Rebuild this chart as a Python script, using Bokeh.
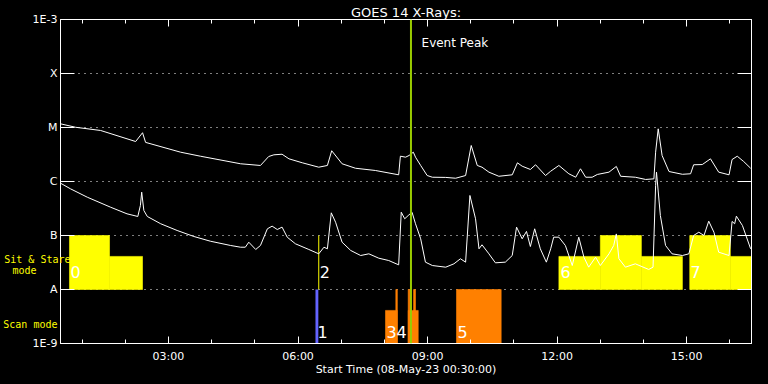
from bokeh.plotting import figure
from bokeh.models import Range1d, FixedTicker, LogAxis, LinearAxis, Span, Label, Title, GlobalInlineStyleSheet
from bokeh.embed import file_html
from bokeh.resources import INLINE

FONT = "DejaVu Sans"
MONO = "DejaVu Sans Mono"

# ---- data (time in decimal hours of 08-May-23, flux in W/m^2) ----
LONG_T = [0.50, 0.85, 1.43, 2.24, 2.40, 2.47, 3.28, 3.74, 4.67, 5.13, 5.32, 5.44, 5.63, 5.79,
          6.10, 6.48, 6.68, 6.78, 7.02, 7.33, 7.79, 8.33, 8.37, 8.49, 8.57, 8.67, 8.72, 8.84,
          8.99, 9.11, 9.42, 9.65, 9.88, 10.01, 10.15, 10.26, 10.42, 10.65, 10.96, 11.08, 11.19,
          11.38, 11.50, 11.73, 11.85, 12.04, 12.27, 12.43, 12.54, 12.66, 12.81, 12.93, 13.20,
          13.37, 13.47, 13.81, 14.05, 14.24, 14.28, 14.34, 14.43, 14.59, 14.90, 15.09, 15.16,
          15.36, 15.55, 15.74, 15.98, 16.05, 16.17, 16.32, 16.48]
LONG_F = [1.17e-5, 1.01e-5, 8.8e-6, 5.5e-6, 8.0e-6, 5.3e-6, 3.49e-6, 2.94e-6, 2.13e-6, 1.98e-6,
          2.90e-6, 3.12e-6, 3.2e-6, 2.63e-6, 2.22e-6, 1.84e-6, 1.98e-6, 3.71e-6, 2.13e-6, 1.76e-6,
          1.60e-6, 1.33e-6, 2.94e-6, 2.82e-6, 3.03e-6, 3.49e-6, 2.82e-6, 1.98e-6, 1.29e-6, 1.20e-6,
          1.19e-6, 1.15e-6, 1.29e-6, 4.64e-6, 1.98e-6, 1.84e-6, 1.49e-6, 1.25e-6, 1.33e-6, 2.22e-6,
          1.92e-6, 1.67e-6, 2.04e-6, 1.29e-6, 1.55e-6, 1.98e-6, 1.39e-6, 1.20e-6, 1.72e-6, 1.20e-6,
          1.20e-6, 1.35e-6, 1.49e-6, 1.90e-6, 1.25e-6, 1.20e-6, 1.09e-6, 1.12e-6, 3.49e-6, 9.46e-6,
          3.03e-6, 1.53e-6, 1.36e-6, 1.39e-6, 2.04e-6, 2.06e-6, 2.63e-6, 1.49e-6, 1.33e-6, 2.55e-6,
          2.94e-6, 2.34e-6, 1.76e-6]

SHORT_T = [0.50, 0.73, 1.12, 1.66, 2.04, 2.29, 2.35, 2.38, 2.43, 2.51, 2.82, 3.20, 3.59, 3.97,
           4.44, 4.67, 4.78, 4.86, 5.02, 5.13, 5.29, 5.40, 5.52, 5.63, 5.75, 5.94, 6.25, 6.48,
           6.60, 6.68, 6.77, 6.87, 7.02, 7.22, 7.45, 7.64, 7.87, 8.10, 8.33, 8.39, 8.47, 8.55,
           8.64, 8.72, 8.84, 8.95, 9.11, 9.42, 9.61, 9.76, 9.88, 9.98, 10.11, 10.19, 10.26, 10.42,
           10.57, 10.80, 10.96, 11.06, 11.19, 11.29, 11.38, 11.48, 11.61, 11.75, 11.85, 11.92,
           12.04, 12.19, 12.35, 12.50, 12.62, 12.73, 12.89, 13.00, 13.20, 13.31, 13.37, 13.43,
           13.58, 13.81, 14.12, 14.22, 14.28, 14.30, 14.39, 14.51, 14.66, 14.90, 15.05, 15.16,
           15.28, 15.40, 15.51, 15.63, 15.74, 15.98, 16.05, 16.11, 16.15, 16.29, 16.48]
SHORT_F = [9.3e-7, 7.33e-7, 5.12e-7, 3.34e-7, 2.52e-7, 2.25e-7, 3.6e-7, 6.34e-7, 2.9e-7, 2.25e-7,
           1.65e-7, 1.24e-7, 9.58e-8, 7.84e-8, 6.53e-8, 6.07e-8, 6.07e-8, 7.51e-8, 5.51e-8, 6.53e-8,
           1.33e-7, 1.49e-7, 1.29e-7, 1.43e-7, 9.31e-8, 7.02e-8, 5.51e-8, 4.58e-8, 6.07e-8, 5.67e-8,
           2.63e-7, 1.76e-7, 7.51e-8, 5.28e-8, 4.26e-8, 4.58e-8, 3.80e-8, 3.44e-8, 2.86e-8, 2.70e-7,
           2.04e-7, 2.34e-7, 2.70e-7, 1.65e-7, 8.69e-8, 3.21e-8, 2.78e-8, 2.59e-8, 2.99e-8, 3.71e-8,
           3.21e-8, 5.51e-7, 2.04e-7, 5.67e-8, 6.73e-8, 4.58e-8, 3.12e-8, 3.21e-8, 4.26e-8, 1.43e-7,
           8.69e-8, 1.19e-7, 6.25e-8, 1.33e-7, 5.67e-8, 3.21e-8, 5.67e-8, 9.31e-8, 9.31e-8, 6.53e-8,
           2.78e-8, 9.31e-8, 3.96e-8, 2.59e-8, 3.96e-8, 2.78e-8, 4.58e-8, 6.53e-8, 1.07e-7, 3.71e-8,
           2.59e-8, 2.99e-8, 2.35e-8, 2.59e-8, 8.43e-7, 1.49e-6, 2.34e-7, 6.53e-8, 4.58e-8, 4.26e-8,
           4.58e-8, 1.0e-7, 1.15e-7, 1.0e-7, 1.84e-7, 1.15e-7, 4.91e-8, 4.26e-8, 1.82e-7, 1.65e-7,
           2.28e-7, 1.53e-7, 5.67e-8]

# Sit & Stare observation blocks (start, end, level)
SS_START = [0.708, 1.635, 12.04, 13.00, 13.95, 15.07, 16.01]
SS_END = [1.635, 2.399, 13.00, 13.95, 14.90, 16.01, 16.89]
SS_TOP = [1.0e-7, 4.1e-8, 4.1e-8, 1.0e-7, 4.1e-8, 1.0e-7, 4.1e-8]
SS_LINE_T = [6.48]
SS_NUM = ["0", "2", "6", "7"]
SS_NUM_T = [0.73, 6.50, 12.08, 15.09]

# Scan mode observation blocks
SCAN_START = [8.025, 8.264, 8.551, 8.551, 8.675, 9.669]
SCAN_END = [8.296, 8.300, 8.783, 8.590, 8.720, 10.704]
SCAN_TOP = [4.1e-9, 1.0e-8, 4.1e-9, 1.0e-8, 1.0e-8, 1.0e-8]
SCAN_BLUE_START = [6.404]
SCAN_BLUE_END = [6.47]
SCAN_NUM = ["1", "3", "4", "5"]
SCAN_NUM_T = [6.45, 8.05, 8.28, 9.69]

EVENT_PEAK = 8.615

Y_TICKS = [1e-9, 1e-8, 1e-7, 1e-6, 1e-5, 1e-4, 1e-3]
Y_LABELS = ["1E-9", "A", "B", "C", "M", "X", "1E-3"]
X_MAJOR = [3, 6, 9, 12, 15]
X_LABELS = ["03:00", "06:00", "09:00", "12:00", "15:00"]
X_MINOR = list(range(1, 17))

# mode captions in the left margin: (text, flux level, label standoff)
MODE_TEXT = ["mode", "Sit & Stare", "Scan mode"]
MODE_LEVEL = [2.25e-8, 3.67e-8, 2.27e-9]
MODE_STANDOFF = [-7, -61, -56]

X0, X1 = 0.5, 16.5
Y0, Y1 = 1e-9, 1e-3

p = figure(width=768, height=384, x_range=Range1d(X0, X1), y_range=Range1d(Y0, Y1),
           y_axis_type="log", output_backend="svg", toolbar_location=None,
           min_border_left=60, min_border_right=17, min_border_top=19, min_border_bottom=41,
           background_fill_color="black", border_fill_color="black",
           outline_line_color="white", outline_line_width=1)
p.stylesheets = [GlobalInlineStyleSheet(css="body { background: black; }")]

p.title = Title(text="GOES 14 X-Rays:", align="center", text_color="white", text_font=FONT,
                text_font_size="13px", text_font_style="normal", standoff=0, offset=0)

def style_axis(ax, tick_in, minor_in, labels=True):
    ax.axis_line_color = "white"
    ax.major_tick_line_color = "white"
    ax.minor_tick_line_color = "white"
    ax.major_tick_in = tick_in
    ax.major_tick_out = 0
    ax.minor_tick_in = minor_in
    ax.minor_tick_out = 0
    ax.major_label_text_color = "white"
    ax.major_label_text_font = FONT
    ax.major_label_text_font_style = "normal"
    if labels:
        ax.major_label_text_font_size = "11px"
    else:
        ax.major_label_text_font_size = "1px"
        ax.major_label_text_alpha = 0
        ax.major_label_standoff = 0

# bottom axis
xa = p.xaxis[0]
xa.ticker = FixedTicker(ticks=X_MAJOR, minor_ticks=X_MINOR)
style_axis(xa, 7, 4)
xa.major_label_overrides = {t: s for t, s in zip(X_MAJOR, X_LABELS)}
xa.major_label_standoff = 6
xa.axis_label = "Start Time (08-May-23 00:30:00)"
xa.axis_label_text_color = "white"
xa.axis_label_text_font = FONT
xa.axis_label_text_font_size = "11px"
xa.axis_label_text_font_style = "normal"
xa.axis_label_standoff = -3

# left axis
ya = p.yaxis[0]
ya.ticker = FixedTicker(ticks=Y_TICKS, minor_ticks=[])
style_axis(ya, 14, 0)
ya.major_label_overrides = {t: s for t, s in zip(Y_TICKS, Y_LABELS)}
ya.major_label_standoff = 3

# yellow mode captions, each as a label-only axis stacked outward on the left
for txt, lvl, so in zip(MODE_TEXT, MODE_LEVEL, MODE_STANDOFF):
    cap = LogAxis(ticker=FixedTicker(ticks=[lvl], minor_ticks=[]))
    cap.axis_line_color = None
    cap.major_tick_line_color = None
    cap.minor_tick_line_color = None
    cap.major_tick_in = 0
    cap.major_tick_out = 0
    cap.minor_tick_in = 0
    cap.minor_tick_out = 0
    cap.major_label_overrides = {lvl: txt}
    cap.major_label_text_color = "#ffff00"
    cap.major_label_text_font = MONO
    cap.major_label_text_font_size = "10px"
    cap.major_label_standoff = so
    p.add_layout(cap, "left")

# top and right axes (ticks only)
top = LinearAxis(ticker=FixedTicker(ticks=X_MAJOR, minor_ticks=X_MINOR))
style_axis(top, 7, 4, labels=False)
p.add_layout(top, "above")
right = LogAxis(ticker=FixedTicker(ticks=Y_TICKS, minor_ticks=[]))
style_axis(right, 14, 0, labels=False)
p.add_layout(right, "right")

p.xgrid.visible = False
p.ygrid[0].ticker = FixedTicker(ticks=Y_TICKS[1:-1], minor_ticks=[])
p.ygrid[0].grid_line_color = "white"
p.ygrid[0].grid_line_dash = "1 5"
p.ygrid[0].grid_line_width = 1

LEVEL_A = 1e-8

# sit & stare blocks
p.quad(left=SS_START, right=SS_END, bottom=[LEVEL_A] * len(SS_START), top=SS_TOP,
       fill_color="#ffff00", line_color="#ffff00", line_width=0.6)
p.segment(x0=SS_LINE_T, y0=[LEVEL_A], x1=SS_LINE_T, y1=[1e-7], line_color="#ffff00", line_width=1)

# scan blocks
p.quad(left=SCAN_START, right=SCAN_END, bottom=[Y0] * len(SCAN_START), top=SCAN_TOP,
       fill_color="#ff8000", line_color="#ff8000", line_width=0.6)
p.quad(left=SCAN_BLUE_START, right=SCAN_BLUE_END, bottom=[Y0], top=[LEVEL_A],
       fill_color="#6464ff", line_color=None)

# curves
p.line(LONG_T, LONG_F, line_color="white", line_width=1)
p.line(SHORT_T, SHORT_F, line_color="white", line_width=1)

p.add_layout(Span(location=EVENT_PEAK, dimension="height", line_color="#99cc00", line_width=2))

def lab(x, y, text, color="white", size="12px", align="left"):
    p.add_layout(Label(x=x, y=y, text=text, text_color=color, text_font=FONT,
                       text_font_size=size, text_align=align, text_baseline="middle"))

for t, s in zip(SS_NUM_T, SS_NUM):
    lab(t, 2.15e-8, s, size="16px")
for t, s in zip(SCAN_NUM_T, SCAN_NUM):
    lab(t, 1.6e-9, s, size="16px")

lab(8.86, 3.6e-4, "Event Peak")

open("out.html", "w").write(file_html(p, INLINE))
